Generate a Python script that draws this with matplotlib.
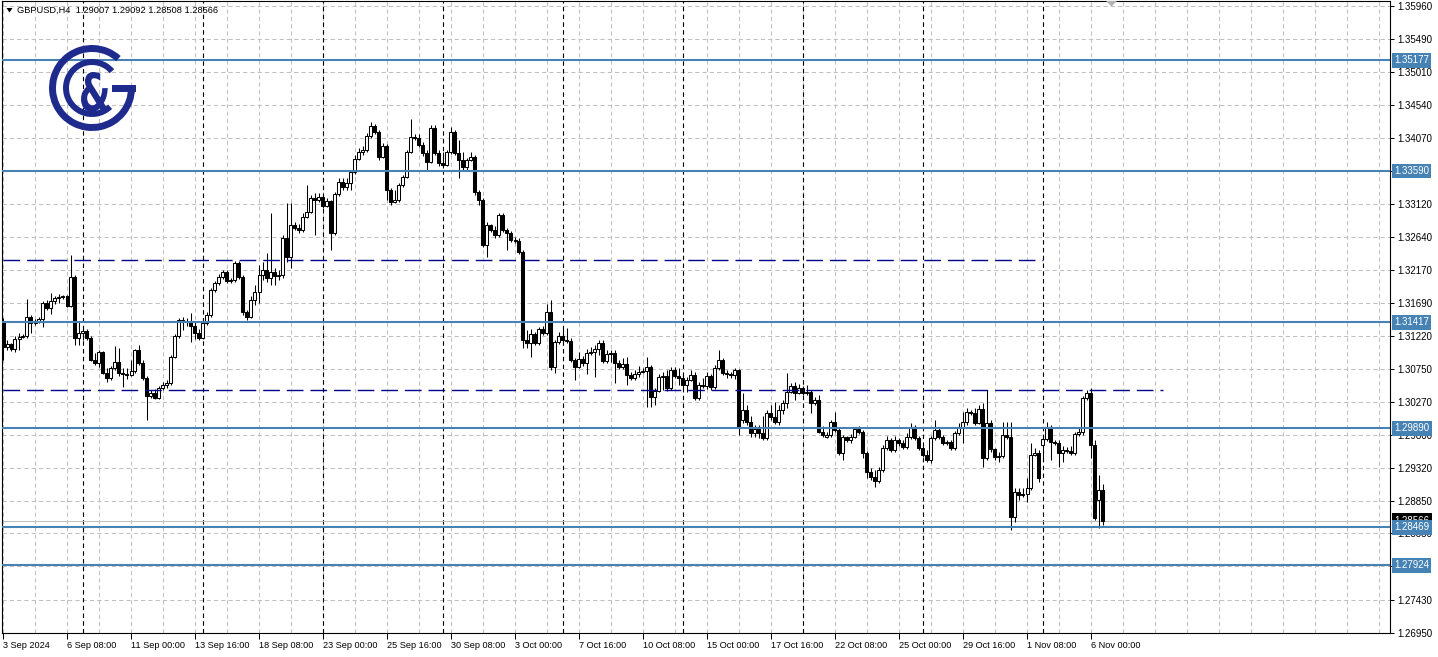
import numpy as np
import matplotlib.pyplot as plt
from matplotlib.patches import Arc, Polygon, Rectangle, PathPatch
from matplotlib.textpath import TextPath
from matplotlib.font_manager import FontProperties
from matplotlib.transforms import Affine2D

plt.rcParams['font.family'] = ['Liberation Sans', 'DejaVu Sans']

# GBPUSD H4 bars, 3 Sep 2024 16:00 .. 6 Nov 2024 12:00
opens = [
    1.3142, 1.3106, 1.3110, 1.3103, 1.3118, 1.3120, 1.3122, 1.3149, 1.3141, 1.3143,
    1.3146, 1.3169, 1.3162, 1.3172, 1.3176, 1.3178, 1.3179, 1.3165, 1.3207, 1.3119,
    1.3126, 1.3129, 1.3119, 1.3087, 1.3083, 1.3099, 1.3069, 1.3061, 1.3076, 1.3084,
    1.3069, 1.3067, 1.3066, 1.3072, 1.3102, 1.3083, 1.3061, 1.3036, 1.3040, 1.3033,
    1.3047, 1.3051, 1.3054, 1.3092, 1.3122, 1.3145, 1.3142, 1.3143, 1.3136, 1.3126,
    1.3119, 1.3141, 1.3152, 1.3188, 1.3198, 1.3207, 1.3214, 1.3201, 1.3202, 1.3227,
    1.3207, 1.3156, 1.3149, 1.3174, 1.3185, 1.3209, 1.3217, 1.3205, 1.3214, 1.3208,
    1.3209, 1.3263, 1.3235, 1.3281, 1.3277, 1.3274, 1.3293, 1.3300, 1.3320, 1.3317,
    1.3322, 1.3309, 1.3316, 1.3270, 1.3326, 1.3343, 1.3336, 1.3342, 1.3357, 1.3376,
    1.3386, 1.3389, 1.3409, 1.3424, 1.3415, 1.3379, 1.3395, 1.3332, 1.3314, 1.3317,
    1.3339, 1.3350, 1.3386, 1.3408, 1.3406, 1.3396, 1.3385, 1.3372, 1.3421, 1.3385,
    1.3370, 1.3368, 1.3386, 1.3415, 1.3385, 1.3375, 1.3365, 1.3375, 1.3379, 1.3329,
    1.3317, 1.3253, 1.3281, 1.3274, 1.3267, 1.3296, 1.3274, 1.3270, 1.3260, 1.3258,
    1.3242, 1.3116, 1.3112, 1.3125, 1.3112, 1.3132, 1.3126, 1.3156, 1.3077, 1.3113,
    1.3122, 1.3116, 1.3115, 1.3087, 1.3077, 1.3089, 1.3083, 1.3097, 1.3099, 1.3103,
    1.3112, 1.3086, 1.3096, 1.3097, 1.3083, 1.3077, 1.3082, 1.3066, 1.3061, 1.3067,
    1.3070, 1.3072, 1.3077, 1.3034, 1.3043, 1.3063, 1.3064, 1.3047, 1.3073, 1.3064,
    1.3061, 1.3051, 1.3059, 1.3066, 1.3033, 1.3051, 1.3050, 1.3064, 1.3048, 1.3076,
    1.3087, 1.3069, 1.3067, 1.3066, 1.3073, 1.3001, 1.3015, 1.2998, 1.2982, 1.2988,
    1.2982, 1.2975, 1.3011, 1.3005, 1.2998, 1.3015, 1.3026, 1.3041, 1.3050, 1.3040,
    1.3047, 1.3040, 1.3041, 1.3026, 1.3030, 1.2984, 1.2977, 1.2980, 1.2998, 1.2987,
    1.2954, 1.2977, 1.2972, 1.2977, 1.2988, 1.2984, 1.2954, 1.2926, 1.2919, 1.2913,
    1.2929, 1.2961, 1.2972, 1.2958, 1.2972, 1.2968, 1.2962, 1.2977, 1.2991, 1.2975,
    1.2961, 1.2951, 1.2944, 1.2975, 1.2987, 1.2977, 1.2968, 1.2969, 1.2961, 1.2982,
    1.2991, 1.2998, 1.3013, 1.3011, 1.2997, 1.3017, 1.2946, 1.2997, 1.2959, 1.2948,
    1.2949, 1.2980, 1.2977, 1.2862, 1.2898, 1.2893, 1.2895, 1.2903, 1.2951, 1.2954,
    1.2965, 1.2974, 1.2991, 1.2969, 1.2968, 1.2954, 1.2958, 1.2957, 1.2954, 1.2981,
    1.2984, 1.3033, 1.3040, 1.2965, 1.2886, 1.29007,
]
highs = [
    1.3148, 1.3116, 1.3112, 1.3122, 1.3126, 1.3125, 1.3175, 1.3152, 1.3146, 1.3149,
    1.3172, 1.3174, 1.3184, 1.3179, 1.3182, 1.3181, 1.3181, 1.3238, 1.3209, 1.3142,
    1.3133, 1.3132, 1.3122, 1.3097, 1.3102, 1.3100, 1.3076, 1.3079, 1.3107, 1.3105,
    1.3076, 1.3076, 1.3087, 1.3103, 1.3109, 1.3087, 1.3064, 1.3044, 1.3046, 1.3050,
    1.3056, 1.3059, 1.3094, 1.3125, 1.3148, 1.3149, 1.3148, 1.3155, 1.3142, 1.3132,
    1.3145, 1.3156, 1.3191, 1.3201, 1.3211, 1.3217, 1.3217, 1.3205, 1.3230, 1.3230,
    1.3209, 1.3159, 1.3179, 1.3195, 1.3224, 1.3228, 1.3241, 1.3299, 1.3219, 1.3217,
    1.3267, 1.3313, 1.3313, 1.3286, 1.3283, 1.3299, 1.3339, 1.3324, 1.3327, 1.3327,
    1.3324, 1.3320, 1.3317, 1.3329, 1.3349, 1.3349, 1.3349, 1.3360, 1.3382, 1.3392,
    1.3395, 1.3414, 1.3429, 1.3426, 1.3418, 1.3399, 1.3398, 1.3334, 1.3332, 1.3342,
    1.3353, 1.3389, 1.3434, 1.3412, 1.3412, 1.3401, 1.3389, 1.3425, 1.3425, 1.3389,
    1.3386, 1.3389, 1.3422, 1.3418, 1.3403, 1.3386, 1.3378, 1.3386, 1.3382, 1.3332,
    1.3320, 1.3286, 1.3283, 1.3280, 1.3299, 1.3299, 1.3277, 1.3273, 1.3264, 1.3263,
    1.3245, 1.3130, 1.3132, 1.3128, 1.3135, 1.3136, 1.3168, 1.3174, 1.3116, 1.3128,
    1.3132, 1.3133, 1.3119, 1.3090, 1.3099, 1.3093, 1.3103, 1.3106, 1.3109, 1.3116,
    1.3116, 1.3102, 1.3102, 1.3102, 1.3087, 1.3090, 1.3092, 1.3070, 1.3073, 1.3079,
    1.3076, 1.3092, 1.3080, 1.3047, 1.3067, 1.3070, 1.3073, 1.3077, 1.3077, 1.3076,
    1.3066, 1.3063, 1.3073, 1.3070, 1.3056, 1.3061, 1.3070, 1.3067, 1.3080, 1.3102,
    1.3090, 1.3073, 1.3070, 1.3076, 1.3074, 1.3040, 1.3023, 1.3007, 1.2994, 1.2994,
    1.3007, 1.3015, 1.3023, 1.3027, 1.3023, 1.3030, 1.3069, 1.3054, 1.3056, 1.3053,
    1.3050, 1.3051, 1.3044, 1.3034, 1.3037, 1.2992, 1.2984, 1.3001, 1.3013, 1.2990,
    1.2980, 1.2978, 1.2981, 1.2991, 1.2992, 1.2987, 1.2957, 1.2932, 1.2929, 1.2934,
    1.2965, 1.2978, 1.2975, 1.2978, 1.2975, 1.2972, 1.2982, 1.2997, 1.2994, 1.2978,
    1.2964, 1.2958, 1.2978, 1.3001, 1.2990, 1.2980, 1.2972, 1.2972, 1.2985, 1.2997,
    1.3013, 1.3018, 1.3015, 1.3018, 1.3023, 1.3026, 1.3044, 1.3001, 1.2961, 1.2955,
    1.2998, 1.2998, 1.2998, 1.2903, 1.2903, 1.2903, 1.2918, 1.2968, 1.2961, 1.2958,
    1.2980, 1.2998, 1.2994, 1.2972, 1.2972, 1.2964, 1.2962, 1.2964, 1.2984, 1.2990,
    1.3036, 1.3044, 1.3047, 1.2972, 1.2922, 1.29092,
]
lows = [
    1.3087, 1.3102, 1.3100, 1.3099, 1.3102, 1.3119, 1.3119, 1.3126, 1.3138, 1.3141,
    1.3135, 1.3159, 1.3153, 1.3168, 1.3169, 1.3175, 1.3163, 1.3163, 1.3109, 1.3109,
    1.3116, 1.3116, 1.3086, 1.3080, 1.3077, 1.3067, 1.3056, 1.3059, 1.3073, 1.3064,
    1.3048, 1.3060, 1.3064, 1.3069, 1.3080, 1.3059, 1.3001, 1.3033, 1.3031, 1.3031,
    1.3044, 1.3047, 1.3051, 1.3090, 1.3119, 1.3130, 1.3136, 1.3113, 1.3118, 1.3116,
    1.3118, 1.3138, 1.3149, 1.3185, 1.3195, 1.3204, 1.3198, 1.3198, 1.3199, 1.3204,
    1.3152, 1.3145, 1.3148, 1.3166, 1.3169, 1.3202, 1.3199, 1.3195, 1.3195, 1.3202,
    1.3205, 1.3228, 1.3219, 1.3274, 1.3270, 1.3271, 1.3291, 1.3299, 1.3267, 1.3314,
    1.3306, 1.3307, 1.3245, 1.3267, 1.3323, 1.3332, 1.3332, 1.3332, 1.3355, 1.3375,
    1.3382, 1.3386, 1.3406, 1.3412, 1.3375, 1.3378, 1.3317, 1.3310, 1.3313, 1.3314,
    1.3336, 1.3349, 1.3385, 1.3403, 1.3393, 1.3380, 1.3360, 1.3370, 1.3382, 1.3366,
    1.3363, 1.3366, 1.3383, 1.3382, 1.3349, 1.3360, 1.3360, 1.3373, 1.3324, 1.3310,
    1.3250, 1.3235, 1.3271, 1.3263, 1.3264, 1.3271, 1.3245, 1.3257, 1.3255, 1.3240,
    1.3105, 1.3105, 1.3092, 1.3109, 1.3109, 1.3123, 1.3123, 1.3073, 1.3069, 1.3110,
    1.3109, 1.3112, 1.3084, 1.3059, 1.3076, 1.3079, 1.3067, 1.3094, 1.3063, 1.3094,
    1.3083, 1.3083, 1.3084, 1.3054, 1.3074, 1.3074, 1.3051, 1.3059, 1.3059, 1.3063,
    1.3069, 1.3020, 1.3020, 1.3023, 1.3041, 1.3044, 1.3043, 1.3044, 1.3061, 1.3051,
    1.3047, 1.3041, 1.3057, 1.3030, 1.3030, 1.3047, 1.3046, 1.3044, 1.3046, 1.3073,
    1.3066, 1.3061, 1.3061, 1.3060, 1.2979, 1.2997, 1.2994, 1.2977, 1.2977, 1.2975,
    1.2972, 1.2972, 1.3001, 1.2995, 1.2994, 1.3010, 1.3018, 1.3040, 1.3030, 1.3039,
    1.3037, 1.3037, 1.3011, 1.3023, 1.2982, 1.2977, 1.2975, 1.2977, 1.2984, 1.2951,
    1.2944, 1.2969, 1.2968, 1.2975, 1.2981, 1.2946, 1.2918, 1.2915, 1.2905, 1.2911,
    1.2926, 1.2958, 1.2955, 1.2955, 1.2964, 1.2959, 1.2959, 1.2974, 1.2972, 1.2958,
    1.2948, 1.2941, 1.2939, 1.2972, 1.2974, 1.2965, 1.2965, 1.2958, 1.2958, 1.2980,
    1.2968, 1.2994, 1.3008, 1.2994, 1.2995, 1.2934, 1.2944, 1.2955, 1.2944, 1.2941,
    1.2946, 1.2974, 1.2843, 1.2855, 1.2886, 1.2890, 1.2883, 1.2901, 1.2949, 1.2912,
    1.2944, 1.2971, 1.2944, 1.2965, 1.2934, 1.2941, 1.2954, 1.2951, 1.2951, 1.2978,
    1.2980, 1.3030, 1.2946, 1.2857, 1.2846, 1.28508,
]
closes = [
    1.3106, 1.3110, 1.3103, 1.3118, 1.3120, 1.3122, 1.3149, 1.3141, 1.3143, 1.3146,
    1.3169, 1.3162, 1.3172, 1.3176, 1.3178, 1.3179, 1.3165, 1.3207, 1.3119, 1.3126,
    1.3129, 1.3119, 1.3087, 1.3083, 1.3099, 1.3069, 1.3061, 1.3076, 1.3084, 1.3069,
    1.3067, 1.3066, 1.3072, 1.3102, 1.3083, 1.3061, 1.3036, 1.3040, 1.3033, 1.3047,
    1.3051, 1.3054, 1.3092, 1.3122, 1.3145, 1.3142, 1.3143, 1.3136, 1.3126, 1.3119,
    1.3141, 1.3152, 1.3188, 1.3198, 1.3207, 1.3214, 1.3201, 1.3202, 1.3227, 1.3207,
    1.3156, 1.3149, 1.3174, 1.3185, 1.3209, 1.3217, 1.3205, 1.3214, 1.3208, 1.3209,
    1.3263, 1.3235, 1.3281, 1.3277, 1.3274, 1.3293, 1.3300, 1.3320, 1.3317, 1.3322,
    1.3309, 1.3316, 1.3270, 1.3326, 1.3343, 1.3336, 1.3342, 1.3357, 1.3376, 1.3386,
    1.3389, 1.3409, 1.3424, 1.3415, 1.3379, 1.3395, 1.3332, 1.3314, 1.3317, 1.3339,
    1.3350, 1.3386, 1.3408, 1.3406, 1.3396, 1.3385, 1.3372, 1.3421, 1.3385, 1.3370,
    1.3368, 1.3386, 1.3415, 1.3385, 1.3375, 1.3365, 1.3375, 1.3379, 1.3329, 1.3317,
    1.3253, 1.3281, 1.3274, 1.3267, 1.3296, 1.3274, 1.3270, 1.3260, 1.3258, 1.3242,
    1.3116, 1.3112, 1.3125, 1.3112, 1.3132, 1.3126, 1.3156, 1.3077, 1.3113, 1.3122,
    1.3116, 1.3115, 1.3087, 1.3077, 1.3089, 1.3083, 1.3097, 1.3099, 1.3103, 1.3112,
    1.3086, 1.3096, 1.3097, 1.3083, 1.3077, 1.3082, 1.3066, 1.3061, 1.3067, 1.3070,
    1.3072, 1.3077, 1.3034, 1.3043, 1.3063, 1.3064, 1.3047, 1.3073, 1.3064, 1.3061,
    1.3051, 1.3059, 1.3066, 1.3033, 1.3051, 1.3050, 1.3064, 1.3048, 1.3076, 1.3087,
    1.3069, 1.3067, 1.3066, 1.3073, 1.2990, 1.3015, 1.2998, 1.2982, 1.2988, 1.2982,
    1.2975, 1.3011, 1.3005, 1.2998, 1.3015, 1.3026, 1.3041, 1.3050, 1.3040, 1.3047,
    1.3040, 1.3041, 1.3026, 1.3030, 1.2984, 1.2980, 1.2980, 1.2998, 1.2987, 1.2954,
    1.2977, 1.2972, 1.2977, 1.2988, 1.2984, 1.2954, 1.2926, 1.2919, 1.2913, 1.2929,
    1.2961, 1.2972, 1.2958, 1.2972, 1.2968, 1.2962, 1.2977, 1.2991, 1.2975, 1.2961,
    1.2951, 1.2944, 1.2975, 1.2987, 1.2977, 1.2968, 1.2969, 1.2961, 1.2982, 1.2991,
    1.2998, 1.3013, 1.3011, 1.2997, 1.3017, 1.2946, 1.2997, 1.2959, 1.2948, 1.2949,
    1.2980, 1.2977, 1.2862, 1.2898, 1.2893, 1.2895, 1.2903, 1.2951, 1.2954, 1.2918,
    1.2974, 1.2991, 1.2969, 1.2968, 1.2954, 1.2958, 1.2957, 1.2954, 1.2981, 1.2984,
    1.3033, 1.3040, 1.2965, 1.2860, 1.2901, 1.28566,
]

levels = [1.35177, 1.33590, 1.31417, 1.29890, 1.28469, 1.27924]
trend_levels = [1.3231, 1.3044]
trend_end_bar = [260, 290]
bid = 1.28566

price_ticks = [1.35960, 1.35490, 1.35010, 1.34540, 1.34070, 1.33590, 1.33120,
               1.32640, 1.32170, 1.31690, 1.31220, 1.30750, 1.30270, 1.29800,
               1.29320, 1.28850, 1.28380, 1.27910, 1.27430, 1.26950]
time_labels = ['3 Sep 2024', '6 Sep 08:00', '11 Sep 00:00', '13 Sep 16:00',
               '18 Sep 08:00', '23 Sep 00:00', '25 Sep 16:00', '30 Sep 08:00',
               '3 Oct 00:00', '7 Oct 16:00', '10 Oct 08:00', '15 Oct 00:00',
               '17 Oct 16:00', '22 Oct 08:00', '25 Oct 00:00', '29 Oct 16:00',
               '1 Nov 08:00', '6 Nov 00:00']
week_start_bars = [20, 50, 80, 110, 140, 170, 200, 230, 260]

W, H = 1438, 657
fig = plt.figure(figsize=(W / 100, H / 100), dpi=100, facecolor='white')
ax = fig.add_axes([2 / W, 24 / H, 1388 / W, 632 / H])
ax.set_facecolor('white')
ax.set_xlim(-0.25, 346.75)
ax.set_ylim(1.26950, 1.36032)

# grid
for p in price_ticks:
    ax.axhline(p, color='#c0c0c0', lw=0.75, ls=(0, (4, 3)), zorder=0)
for g in range(0, 347, 8):
    ax.axvline(g, color='#c0c0c0', lw=0.75, ls=(0, (4, 3)), zorder=0)
for w in week_start_bars:
    ax.axvline(w, color='black', lw=0.8, ls=(0, (4, 3)), zorder=1)

ax.axhline(bid, color='#c0c0c0', lw=0.75, zorder=1)

# candles
o = np.array(opens)
h = np.array(highs)
l = np.array(lows)
c = np.array(closes)
idx = np.arange(len(c))
up = c >= o
ax.vlines(idx, l, h, color='black', lw=0.75, zorder=3)
ax.bar(idx, np.maximum(np.abs(c - o), 0.00004), bottom=np.minimum(o, c),
       width=0.75, color=['white' if u else 'black' for u in up],
       edgecolor='black', linewidth=0.75, zorder=3)

# horizontal levels and trend lines
for lv in levels:
    ax.axhline(lv, color='#4682B4', lw=1.5, zorder=4)
for lv, end in zip(trend_levels, trend_end_bar):
    ax.plot([0, end], [lv, lv], color='#00008B', lw=1.0, ls=(0, (12, 5)), zorder=4)

# axes
for s in ax.spines.values():
    s.set_color('black')
    s.set_linewidth(0.8)
ax.yaxis.tick_right()
ax.set_yticks(price_ticks)
# labels that sit under a level box are not shown by the terminal
ax.set_yticklabels(['' if min(abs(p - lv) for lv in levels) < 0.0003 else f'{p:.5f}'
                    for p in price_ticks])
ax.tick_params(axis='y', length=3, width=0.75, pad=2, labelsize=7, colors='black')
ax.set_xticks(np.arange(len(time_labels)) * 16)
ax.set_xticklabels(time_labels, ha='left')
ax.tick_params(axis='x', length=4, width=0.75, pad=1.5, labelsize=6.6, colors='black')

tr = ax.get_yaxis_transform()
box = 'square,pad=0.25'
ax.text(1 + 4 / 1388, bid, f'{bid:.5f}', transform=tr, ha='left', va='center',
        color='white', fontsize=7, clip_on=False, zorder=6,
        bbox=dict(boxstyle=box, fc='black', ec='none'))
for lv in levels:
    ax.text(1 + 4 / 1388, lv, f'{lv:.5f}', transform=tr, ha='left', va='center',
            color='white', fontsize=7, clip_on=False, zorder=7,
            bbox=dict(boxstyle=box, fc='#4682B4', ec='none'))

# header
fig.text(17 / W, 1 - 10.5 / H, 'GBPUSD,H4  1.29007 1.29092 1.28508 1.28566',
         fontsize=6.7, ha='left', va='center', color='black')


def px(x, y):
    return (x / W, 1 - y / H)


fig.patches.append(Polygon([px(6.5, 8), px(12.5, 8), px(9.5, 12.5)], closed=True,
                           fc='black', ec='none', transform=fig.transFigure))
fig.patches.append(Polygon([px(1106, 1), px(1117, 1), px(1111.5, 6.5)], closed=True,
                           fc='#b4b4b4', ec='none', transform=fig.transFigure))

# logo
logo = '#1e2a8c'
lax = fig.add_axes([44 / W, 1 - 136 / H, 98 / W, 96 / H])
lax.set_xlim(44, 142)
lax.set_ylim(H - 136, H - 40)
lax.axis('off')
cy = H - 88
lax.add_patch(Arc((92, cy), 79, 79, theta1=48, theta2=360, lw=5.0, color=logo))
lax.add_patch(Arc((92, cy), 52, 52, theta1=40, theta2=314, lw=4.3, color=logo))
lax.add_patch(Rectangle((112, cy - 3.5), 24, 7, color=logo, lw=0))
tp = TextPath((0, 0), '&', size=1, prop=FontProperties(family='DejaVu Sans', weight='bold'))
bb = tp.get_extents()
sx, sy = 28 / bb.width, 40 / bb.height
tf = Affine2D().translate(-bb.x0, -bb.y0).scale(sx, sy).translate(81, H - 112)
lax.add_patch(PathPatch(tf.transform_path(tp), color=logo, lw=0))

fig.savefig('out.png', dpi=100, facecolor='white')
